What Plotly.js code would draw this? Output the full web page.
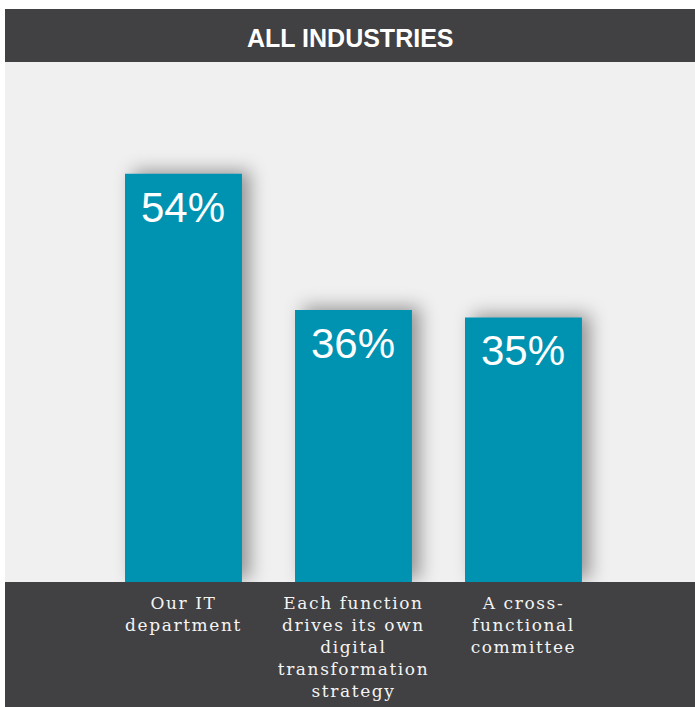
<!DOCTYPE html>
<html>
<head>
<meta charset="utf-8">
<script src="https://cdn.plot.ly/plotly-3.0.1.min.js"></script>
<style>
  html, body { margin: 0; padding: 0; background: #ffffff; }
  #chart { width: 695px; height: 707px; }
  .barlayer .point path { filter: drop-shadow(8px -3px 9px rgba(0,0,0,0.38)); }
  .xtick text { letter-spacing: 1.6px; }
</style>
</head>
<body>
<div id="chart"></div>
<script>
const categories = ["Our IT department", "Each function drives its own digital transformation strategy", "A cross-functional committee"];
const values = [54, 36, 35];
const valueLabels = ["54%", "36%", "35%"];
const tickLabels = ["Our IT<br>department", "Each function<br>drives its own<br>digital<br>transformation<br>strategy", "A cross-<br>functional<br>committee"];
const chartTitle = "ALL INDUSTRIES";

const plotH = 520;
const trace = {
  type: "bar",
  x: categories,
  y: values,
  marker: { color: "#0093b1" },
  hoverinfo: "none",
  textposition: "none"
};

const annotations = categories.map((c, i) => ({
  x: c, y: values[i], xref: "x", yref: "y",
  text: valueLabels[i], showarrow: false,
  yanchor: "top", yshift: -8,
  font: { family: "Liberation Sans, Arial, sans-serif", size: 42, color: "#ffffff" }
}));
annotations.push({
  xref: "paper", yref: "paper", x: 0.5, y: 1 + 23.5 / plotH,
  xanchor: "center", yanchor: "middle", showarrow: false,
  text: "<b>" + chartTitle + "</b>",
  font: { family: "Liberation Sans, Arial, sans-serif", size: 25, color: "#ffffff" }
});

const layout = {
  width: 695, height: 707,
  margin: { l: 5, r: 0, t: 62, b: 125 },
  paper_bgcolor: "#ffffff",
  plot_bgcolor: "#f0f0f0",
  showlegend: false,
  bargap: 0.312,
  xaxis: {
    type: "category",
    range: [-1.05, 3.009],
    tickvals: categories,
    ticktext: tickLabels,
    tickfont: { family: "DejaVu Serif, serif", size: 17, color: "#f4f4f4" },
    ticks: "", showline: false, showgrid: false, zeroline: false,
    ticklabelstandoff: 9
  },
  yaxis: {
    range: [0, 68.8],
    visible: false, showgrid: false, zeroline: false
  },
  shapes: [
    { type: "rect", xref: "paper", yref: "paper", x0: 0, x1: 1, y0: 1, y1: 1 + 53 / plotH,
      fillcolor: "#414042", line: { width: 0 }, layer: "below" },
    { type: "rect", xref: "paper", yref: "paper", x0: 0, x1: 1, y0: -125 / plotH, y1: 0,
      fillcolor: "#414042", line: { width: 0 }, layer: "below" }
  ],
  annotations: annotations
};

Plotly.newPlot("chart", [trace], layout, { staticPlot: true, displayModeBar: false });
</script>
</body>
</html>
